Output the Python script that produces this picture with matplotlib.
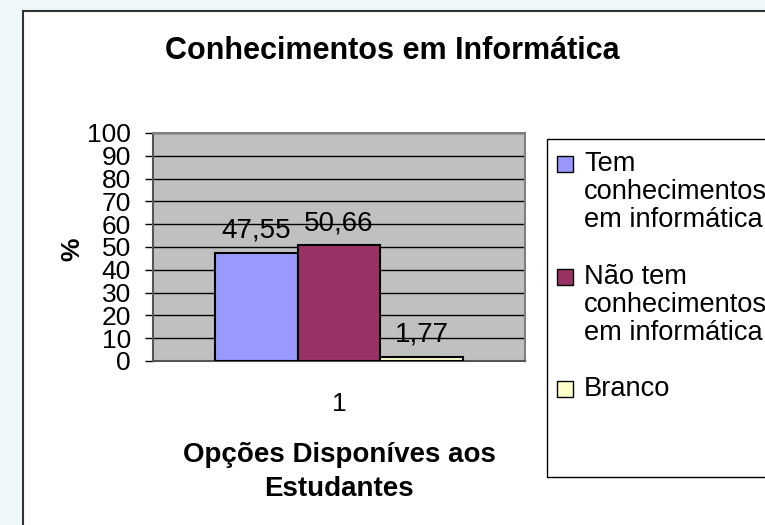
import matplotlib.pyplot as plt
from matplotlib.patches import Rectangle

plt.rcParams['font.family'] = ['Liberation Sans', 'DejaVu Sans']

categories = ['1']
series = ['Tem\nconhecimentos\nem informática',
          'Não tem\nconhecimentos\nem informática',
          'Branco']
values = [47.55, 50.66, 1.77]
value_labels = ['47,55', '50,66', '1,77']
colors = ['#9999FF', '#993366', '#FFFFCC']
yticks = list(range(0, 101, 10))

fig = plt.figure(figsize=(7.65, 5.25), dpi=100)
fig.patch.set_facecolor('#EEF8FB')

# white chart area with black frame
fig.patches.append(Rectangle((23 / 765, -0.05), 1.0, 1 - 11 / 525 + 0.05,
                             transform=fig.transFigure, facecolor='white',
                             edgecolor='#333333', linewidth=1.5, zorder=-2))

ax = fig.add_axes([153 / 765, 1 - 361 / 525, 372 / 765, 228 / 525])
ax.set_facecolor('#C0C0C0')

width = 0.222
for i, (v, lab, c) in enumerate(zip(values, value_labels, colors)):
    x = 1 + (i - 1) * width
    ax.bar(x, v, width=width, color=c, edgecolor='black', linewidth=1.5, zorder=3)
    ax.annotate(lab, (x, v), xytext=(0, 11), textcoords='offset points',
                ha='center', va='baseline', fontsize=20, zorder=4)

ax.set_xlim(0.5, 1.5)
ax.set_ylim(0, 100)
ax.set_yticks(yticks)
ax.set_yticklabels([str(t) for t in yticks], fontsize=19)
ax.set_xticks([1])
ax.set_xticklabels(categories, fontsize=19)
ax.tick_params(axis='y', length=6, width=1, pad=10, direction='out')
ax.tick_params(axis='x', length=0, pad=22)
ax.yaxis.grid(True, color='black', linewidth=1, zorder=1)
ax.set_axisbelow(True)
for s in ['top', 'right']:
    ax.spines[s].set_color('#808080')
    ax.spines[s].set_linewidth(1.5)
for s in ['left', 'bottom']:
    ax.spines[s].set_color('#555555')
    ax.spines[s].set_linewidth(1.5)

ax.set_ylabel('%', fontsize=19, fontweight='bold')
ax.yaxis.set_label_coords(-0.185, 0.49)
ax.set_xlabel('Opções Disponíves aos\nEstudantes', fontsize=20,
              fontweight='bold', labelpad=19, linespacing=1.38)

fig.text(392 / 765, 1 - 59 / 525, 'Conhecimentos em Informática',
         ha='center', va='baseline', fontsize=22, fontweight='bold')

# legend box
fig.patches.append(Rectangle((547 / 765, 1 - 477 / 525), 0.5, (477 - 139) / 525,
                             transform=fig.transFigure, facecolor='white',
                             edgecolor='black', linewidth=1, zorder=1))
entry_tops = [151, 264, 376]
for top, name, c in zip(entry_tops, series, colors):
    fig.patches.append(Rectangle((557 / 765, 1 - (top + 21) / 525), 16 / 765, 16 / 525,
                                 transform=fig.transFigure, facecolor=c,
                                 edgecolor='black', linewidth=1, zorder=2))
    fig.text(584 / 765, 1 - top / 525, name, ha='left', va='top',
             fontsize=19.6, linespacing=1.1, zorder=3)

fig.savefig('out.png', dpi=100, facecolor=fig.get_facecolor())
